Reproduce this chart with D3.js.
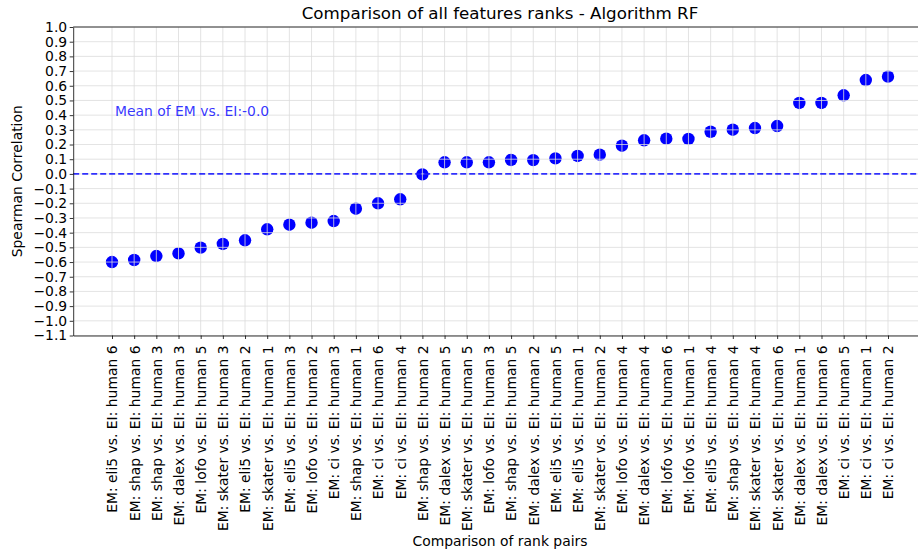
<!DOCTYPE html>
<html>
<head>
<meta charset="utf-8">
<script src="https://cdn.jsdelivr.net/npm/d3@7"></script>
<style>
    body { margin: 0; background: #fff; }
    text { font-family: "DejaVu Sans", sans-serif; fill: #000; }
</style>
</head>
<body>
<div id="chart"></div>
<script>
// comparison pairs, sorted by correlation
let emMethods = ["eli5", "shap", "shap", "dalex", "lofo", "skater", "eli5", "skater", "eli5", "lofo",
    "ci", "shap", "ci", "ci", "shap", "dalex", "skater", "lofo", "shap", "dalex",
    "eli5", "eli5", "skater", "lofo", "dalex", "lofo", "lofo", "eli5", "shap", "skater",
    "skater", "dalex", "dalex", "ci", "ci", "ci"];
let humanRaters = [6, 6, 3, 3, 5, 3, 2, 1, 3, 2,
    3, 1, 6, 4, 2, 5, 5, 3, 5, 2,
    5, 1, 2, 4, 4, 6, 1, 4, 4, 4,
    6, 1, 6, 5, 1, 2];
let correlations = [-0.600, -0.586, -0.559, -0.541, -0.502, -0.477, -0.452, -0.377, -0.346, -0.332,
    -0.321, -0.237, -0.200, -0.173, -0.003, 0.079, 0.079, 0.079, 0.095, 0.094,
    0.106, 0.122, 0.131, 0.192, 0.229, 0.240, 0.238, 0.287, 0.301, 0.312,
    0.326, 0.483, 0.483, 0.535, 0.639, 0.662];
let yTicks = d3.range(-11, 11).map(d => d / 10);
let meanLabel = "Mean of EM vs. EI:-0.0";

let labels = emMethods.map((m, i) => "EM: " + m + " vs. EI: human " + humanRaters[i]);
let data = labels.map((l, i) => ({label: l, value: correlations[i]}));

let width = 918, height = 554;
let plotLeft = 73.2, plotRight = 926.8, plotTop = 27, plotBottom = 335.5;

let svg = d3.select("#chart").append("svg")
    .attr("width", width)
    .attr("height", height)
    .style("display", "block");

let x = d3.scalePoint()
    .domain(labels)
    .range([plotLeft, plotRight])
    .padding(1.75);

let y = d3.scaleLinear()
    .domain([-1.1, 1.0])
    .range([plotBottom, plotTop]);

let fmt = d => (d < 0 ? "\u2212" : "") + Math.abs(d).toFixed(1);

// points first, grid drawn over them like the original
svg.append("g")
    .selectAll("circle")
    .data(data)
    .enter().append("circle")
    .attr("cx", d => x(d.label))
    .attr("cy", d => y(d.value))
    .attr("r", 6.2)
    .attr("fill", "#0000ff");

let grid = svg.append("g").attr("stroke", "#dcdcdc").attr("stroke-width", 0.8);
grid.selectAll("line.v")
    .data(labels)
    .enter().append("line")
    .attr("class", "v")
    .attr("x1", d => x(d)).attr("x2", d => x(d))
    .attr("y1", plotTop).attr("y2", plotBottom);
grid.selectAll("line.h")
    .data(yTicks)
    .enter().append("line")
    .attr("class", "h")
    .attr("x1", plotLeft).attr("x2", plotRight)
    .attr("y1", d => y(d)).attr("y2", d => y(d));

// mean line
svg.append("line")
    .attr("x1", plotLeft).attr("x2", plotRight)
    .attr("y1", y(0)).attr("y2", y(0))
    .attr("stroke", "#0000ff")
    .attr("stroke-opacity", 0.8)
    .attr("stroke-width", 1.6)
    .attr("stroke-dasharray", "6,3");

svg.append("text")
    .attr("x", x(labels[0]) + 3)
    .attr("y", y(0.4) + 0.5)
    .attr("font-size", "13.9px")
    .style("fill", "#0000ff")
    .style("fill-opacity", 0.8)
    .text(meanLabel);

// axes
let xAxis = svg.append("g")
    .attr("transform", "translate(0," + plotBottom + ")")
    .call(d3.axisBottom(x).tickSize(3.5).tickSizeOuter(0).tickFormat(""));
xAxis.select(".domain").attr("stroke", "#000").attr("stroke-width", 0.8);
xAxis.selectAll(".tick line").attr("stroke-width", 0.8);

xAxis.selectAll(".tick")
    .append("text")
    .attr("transform", "translate(0,10) rotate(-90)")
    .attr("text-anchor", "end")
    .attr("dy", "0.35em")
    .attr("font-size", "13.9px")
    .style("fill", "#000")
    .text(d => d);

let yAxis = svg.append("g")
    .attr("transform", "translate(" + plotLeft + ",0)")
    .call(d3.axisLeft(y).tickValues(yTicks).tickFormat(fmt).tickSize(3.5).tickSizeOuter(0));
yAxis.select(".domain").attr("stroke", "#000").attr("stroke-width", 0.8);
yAxis.selectAll(".tick line").attr("stroke-width", 0.8);
yAxis.selectAll(".tick text")
    .attr("x", -6)
    .attr("font-size", "13.9px")
    .attr("font-family", "DejaVu Sans, sans-serif");

// top spine
svg.append("line")
    .attr("x1", plotLeft).attr("x2", plotRight)
    .attr("y1", plotTop).attr("y2", plotTop)
    .attr("stroke", "#000").attr("stroke-width", 0.8);

svg.append("text")
    .attr("x", (plotLeft + plotRight) / 2)
    .attr("y", 19)
    .attr("text-anchor", "middle")
    .attr("font-size", "16.7px")
    .text("Comparison of all features ranks - Algorithm RF");

svg.append("text")
    .attr("x", (plotLeft + plotRight) / 2)
    .attr("y", 546)
    .attr("text-anchor", "middle")
    .attr("font-size", "13.9px")
    .text("Comparison of rank pairs");

svg.append("text")
    .attr("transform", "translate(22," + ((plotTop + plotBottom) / 2) + ") rotate(-90)")
    .attr("text-anchor", "middle")
    .attr("font-size", "13.9px")
    .text("Spearman Correlation");
</script>
</body>
</html>
